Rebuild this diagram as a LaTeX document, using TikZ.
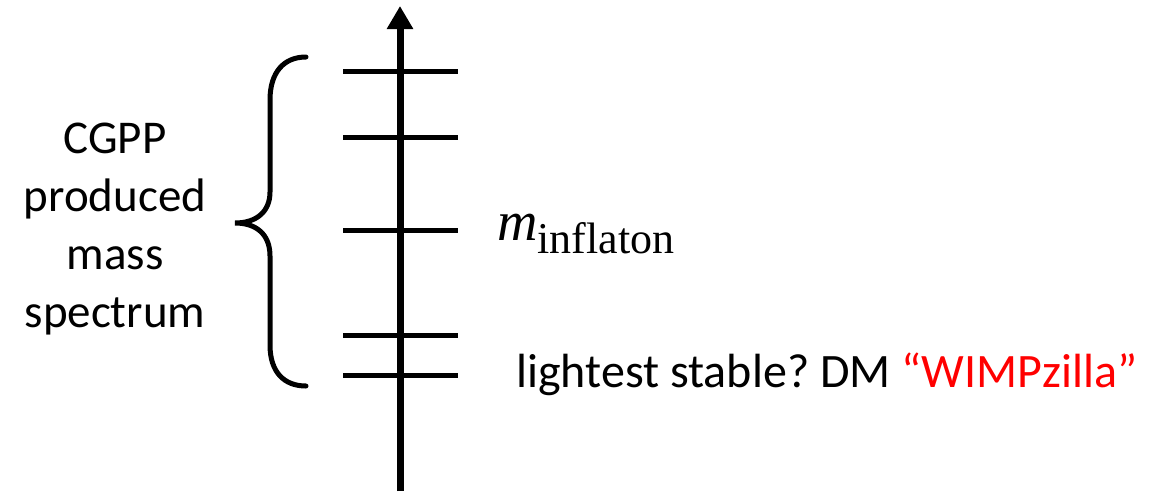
\documentclass[tikz,border=0pt]{standalone}
\usepackage{fontspec}
\setmainfont{Carlito}
\newfontfamily\timesfont{Liberation Serif}
\usepackage{xcolor}
\usepackage{tikz}
\usetikzlibrary{arrows.meta,positioning}
\definecolor{wimpred}{RGB}{255,0,0}
\frenchspacing
\tikzset{
  axisline/.style={line width=7pt, black, -{Triangle[length=23pt,width=25pt]}},
  level/.style={line width=5pt, black},
  bracepath/.style={line width=5pt, black, line cap=round},
  lbl/.style={inner sep=0pt, font=\fontsize{47}{58}\selectfont},
}
\begin{document}
\begin{tikzpicture}[x=1pt, y=-1pt]
\useasboundingbox (0,0) rectangle (1162,491);
\coordinate (bot) at (400,491);
\coordinate (top) at (400,6);
\draw[axisline] (bot) -- (top);
\foreach \lv/\yy in {a/71, b/137, c/230, d/335, e/375} {
  \coordinate (L\lv) at (343,\yy);
  \coordinate (R\lv) at (458,\yy);
  \draw[level] (L\lv) -- (R\lv);
}
% curly brace round the produced levels
\draw[bracepath] (306,57) .. controls (284,57) and (270,72) .. (270,100)
  -- (270,192) .. controls (270,212) and (256,223) .. (235,223)
  .. controls (256,223) and (270,234) .. (270,256)
  -- (270,345) .. controls (270,372) and (284,386) .. (306,386);
\node[lbl, align=center, anchor=base] (spec) at (115,327)
  {CGPP\\produced\\mass\\spectrum};
\node[inner sep=0pt, anchor=base west] (minf) at (497,240)
  {\timesfont{\fontsize{56}{60}\selectfont\itshape m}\raisebox{-13pt}{\fontsize{44}{46}\selectfont inflaton}};
\node[lbl, font=\fontsize{48}{58}\selectfont, anchor=base west] (dm) at (516,387)
  {lightest stable? DM \textcolor{wimpred}{“WIMPzilla”}};
\end{tikzpicture}
\end{document}
